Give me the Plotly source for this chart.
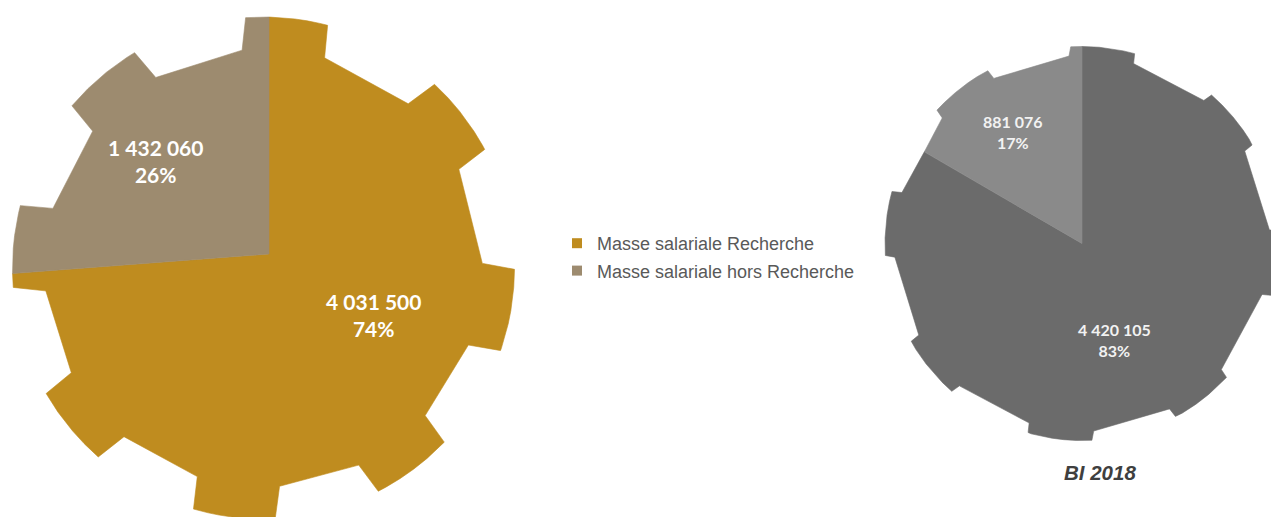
import numpy as np
import plotly.graph_objects as go

W, H = 1271, 517

# ---- data ---------------------------------------------------------------
labels = ["Masse salariale Recherche", "Masse salariale hors Recherche"]
values_left = [4031500, 1432060]
values_right = [4420105, 881076]
colors_left = ["#BF8C1F", "#9D8B6F"]
colors_right = ["#6B6B6B", "#8A8A8A"]
caption_right = "BI 2018"

# ---- gear geometry (pixel space, y pointing down) ------------------------
# gear centre, pie centre, outer radius, root ratio, tooth half-width ratio,
# and the angle of every tooth (degrees clockwise from 12 o'clock)
gear_left = dict(gx=263.5, gy=268, px=269, py=254, r=251, root=0.872, hw=0.165,
                 teeth=[5.3, 52.3, 99.7, 143.3, 186.7, 230.5, 274.9, 319.6])
gear_right = dict(gx=1082, gy=243.5, px=1082, py=243.5, r=197, root=0.95, hw=0.165,
                  teeth=[6.0, 50.4, 95.8, 142.1, 186.4, 230.7, 275.8, 321.9])

# label anchor points for each slice (centre of the two-line label)
label_pos_left = [(373, 315), (155, 161)]
label_pos_right = [(1114, 339.5), (1013, 132)]
caption_pos_right = (1100, 472)


def polar_pt(cx, cy, r, ang):
    # angle measured clockwise from 12 o'clock
    return cx + r * np.sin(ang), cy - r * np.cos(ang)


def gear_outline(g, arc_steps=30, seg_steps=40):
    r_out = g["r"]
    r_in = g["r"] * g["root"]
    w = g["r"] * g["hw"]
    a_in = np.arcsin(w / r_in)
    a_out = np.arcsin(w / r_out)
    verts = []
    for t_deg in g["teeth"]:
        phi = np.radians(t_deg)
        verts.append(polar_pt(g["gx"], g["gy"], r_in, phi - a_in))
        for t in np.linspace(phi - a_out, phi + a_out, arc_steps):
            verts.append(polar_pt(g["gx"], g["gy"], r_out, t))
        verts.append(polar_pt(g["gx"], g["gy"], r_in, phi + a_in))
    verts = np.array(verts)
    # densify every edge (including the flat root chords) so the outline
    # can be cut at any angle by interpolation
    dense = []
    for i in range(len(verts)):
        p0 = verts[i]
        p1 = verts[(i + 1) % len(verts)]
        for s in np.linspace(0, 1, seg_steps, endpoint=False):
            dense.append(p0 + (p1 - p0) * s)
    dense = np.array(dense)
    ang = np.degrees(np.arctan2(dense[:, 0] - g["px"], -(dense[:, 1] - g["py"]))) % 360
    order = np.argsort(ang)
    return ang[order], dense[order, 0], dense[order, 1]


def slice_polygon(g, outline, a0, a1):
    ang, xs, ys = outline
    bx0 = np.interp(a0, ang, xs, period=360)
    by0 = np.interp(a0, ang, ys, period=360)
    bx1 = np.interp(a1, ang, xs, period=360)
    by1 = np.interp(a1, ang, ys, period=360)
    inside = (ang > a0) & (ang < a1)
    px = [g["px"], bx0] + list(xs[inside]) + [bx1, g["px"]]
    py = [g["py"], by0] + list(ys[inside]) + [by1, g["py"]]
    return px, py


def fmt_value(v):
    return f"{v:,}".replace(",", " ")


fig = go.Figure()
annotations = []


def add_gear_pie(g, values, colors, label_pos, font_size, font_color):
    outline = gear_outline(g)
    total = float(sum(values))
    start = 0.0
    for v, c, (lx, ly) in zip(values, colors, label_pos):
        span = 360.0 * v / total
        xs, ys = slice_polygon(g, outline, start, start + span)
        fig.add_trace(go.Scatter(
            x=xs, y=ys, mode="lines", fill="toself",
            fillcolor=c, line=dict(color=c, width=0.6),
            showlegend=False, hoverinfo="skip",
        ))
        annotations.append(dict(
            x=lx, y=ly, xref="x", yref="y", showarrow=False,
            text=f"{fmt_value(v)}<br>{round(100 * v / total)}%",
            font=dict(family="Lato, sans-serif", size=font_size, color=font_color, weight="bold"),
            align="center", xanchor="center", yanchor="middle",
        ))
        start += span


add_gear_pie(gear_left, values_left, colors_left, label_pos_left, 21, "#FFFFFF")
add_gear_pie(gear_right, values_right, colors_right, label_pos_right, 16, "#F2F2F2")

annotations.append(dict(
    x=caption_pos_right[0], y=caption_pos_right[1], xref="x", yref="y", showarrow=False,
    text=f"<b><i>{caption_right}</i></b>",
    font=dict(family="Arial, Liberation Sans, sans-serif", size=20.5, color="#3F3F3F"),
    xanchor="center", yanchor="middle",
))

# legend entries (square swatches)
for i, (name, c) in enumerate(zip(labels, colors_left)):
    fig.add_trace(go.Scatter(
        x=[None], y=[None], mode="markers", name=name,
        marker=dict(symbol="square", size=10, color=c),
        legendgroup=f"g{i}",
    ))

fig.update_layout(
    width=W, height=H,
    margin=dict(l=0, r=0, t=0, b=0),
    paper_bgcolor="white", plot_bgcolor="white",
    xaxis=dict(range=[0, W], visible=False, fixedrange=True),
    yaxis=dict(range=[H, 0], visible=False, fixedrange=True),
    annotations=annotations,
    showlegend=True,
    legend=dict(
        x=557 / W, y=1 - 225 / H, xanchor="left", yanchor="top",
        font=dict(family="Arial, Liberation Sans, sans-serif", size=18, color="#595959"),
        itemwidth=30, tracegroupgap=1, traceorder="grouped",
        bgcolor="rgba(0,0,0,0)",
    ),
)

fig.write_html("out.html", config={"displayModeBar": False})
